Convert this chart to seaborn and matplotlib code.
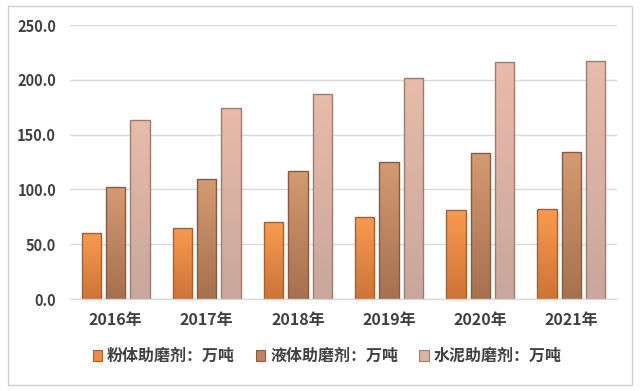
import matplotlib
matplotlib.use("Agg")
import matplotlib.pyplot as plt
import seaborn as sns
import pandas as pd
import numpy as np
from matplotlib.patches import Rectangle
from matplotlib.colors import to_rgb

years = ["2016年", "2017年", "2018年", "2019年", "2020年", "2021年"]
series_names = ["粉体助磨剂：万吨", "液体助磨剂：万吨", "水泥助磨剂：万吨"]
powder = [60.0, 64.5, 70.0, 75.0, 81.2, 82.0]
liquid = [102.5, 109.5, 116.8, 125.3, 133.5, 134.4]
cement = [163.3, 174.0, 187.0, 201.4, 216.0, 217.0]

colors = ["#EE8C45", "#C08462", "#DDB3A5"]
tops = ["#F99A50", "#D49A72", "#E8BBAA"]
bottoms = ["#CC7538", "#A6714F", "#C9A79C"]
edges = ["#A8602C", "#8A5A40", "#9E7C70"]

rows = []
for name, vals in zip(series_names, [powder, liquid, cement]):
    for y, v in zip(years, vals):
        rows.append({"年份": y, "类别": name, "值": v})
df = pd.DataFrame(rows)

sns.set_theme(style="white")
plt.rcParams['font.family'] = ['Noto Sans CJK SC', 'DejaVu Sans']

fig = plt.figure(figsize=(6.4, 3.91), dpi=100)
fig.patch.set_facecolor("white")
fig.patches.append(Rectangle((8/640, 6/391), 624/640, 379/391, transform=fig.transFigure,
                             fill=False, edgecolor="#D0D0D0", linewidth=1.0))
ax = fig.add_axes([70/640, 1-299/391, 547/640, 274/391])

sns.barplot(data=df, x="年份", y="值", hue="类别", palette=colors, width=0.8, gap=0.2,
            saturation=1, ax=ax, legend=False)

ax.set_ylim(0, 250)
n = len(years)
patches = list(ax.patches[:3*n])
for i, p in enumerate(patches):
    s = i // n
    x0, y0 = p.get_x(), p.get_y()
    w, h = p.get_width(), p.get_height()
    t = np.array(to_rgb(tops[s])); b = np.array(to_rgb(bottoms[s]))
    frac = np.linspace(0, 1, 64)[:, None]
    grad = (t * (1 - frac) + b * frac)[:, None, :]
    im = ax.imshow(grad, extent=(x0, x0 + w, y0, y0 + h), origin="upper",
                   aspect="auto", zorder=1.9, interpolation="bilinear")
    im.set_clip_path(p)
    p.set_facecolor("none")
    p.set_edgecolor(edges[s])
    p.set_linewidth(1.0)
    p.set_zorder(2)

ax.set_xlim(-0.5, n - 0.5)
ax.set_ylim(0, 250)
ax.set_yticks([0, 50, 100, 150, 200, 250])
ax.set_yticklabels([f"{v:.1f}" for v in [0, 50, 100, 150, 200, 250]],
                   fontsize=10.5, fontweight="bold", color="#404040")
ax.set_xticks(range(n))
ax.set_xticklabels(years, fontsize=11.5, fontweight="bold", color="#404040")
ax.tick_params(axis="x", pad=9, length=0)
ax.tick_params(axis="y", pad=10, length=0)
ax.set_xlabel("")
ax.set_ylabel("")
ax.yaxis.grid(True, color="#D9D9D9", linewidth=1.0)
ax.set_axisbelow(True)
for sp in ["top", "right", "left"]:
    ax.spines[sp].set_visible(False)
ax.spines["bottom"].set_color("#D9D9D9")
ax.spines["bottom"].set_linewidth(1.0)

handles = [Rectangle((0, 0), 1, 1, facecolor=c, edgecolor=e, linewidth=0.8)
           for c, e in zip(colors, edges)]
fig.legend(handles, series_names, loc="center", bbox_to_anchor=(327/640, 1-356/391),
           ncol=3, frameon=False, handlelength=0.6, handleheight=0.7, handletextpad=0.3,
           columnspacing=1.3, prop={"size": 11.5, "weight": "bold"}, labelcolor="#404040")

fig.savefig("out.png", dpi=100, facecolor="white")
